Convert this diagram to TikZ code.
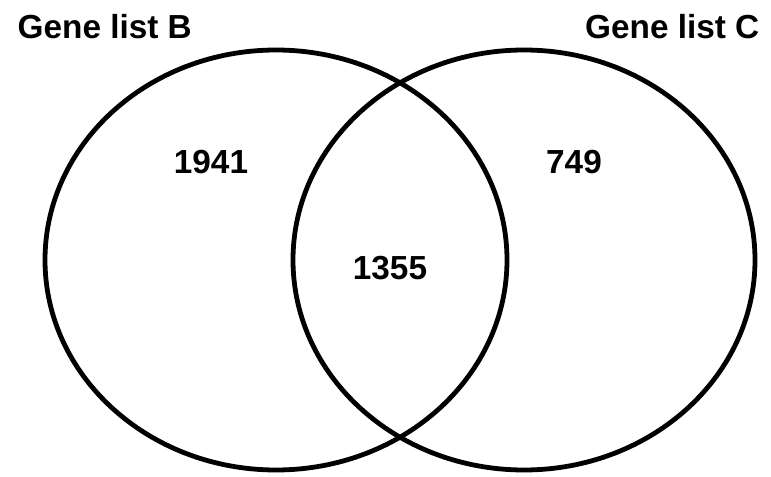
\documentclass[tikz,border=0pt]{standalone}
\usepackage{fontspec}
\setmainfont{Liberation Sans}
\begin{document}
\begin{tikzpicture}[x=0.75pt,y=-0.75pt,
		set/.style={line width=3.6pt},
		title/.style={font=\bfseries\fontsize{25}{29}\selectfont},
		count/.style={font=\bfseries\fontsize{25}{30}\selectfont}]
	\useasboundingbox (0,0) rectangle (771,477);

	% the two lists
	\draw [set] (276,260) ellipse (231 and 210);
	\draw [set] (524,260) ellipse (231 and 210);

	\node [title, anchor=base west] (titleB) at (13,39) {Gene list B};
	\node [title, anchor=base east] (titleC) at (764,39) {Gene list C};

	\node [count] (onlyB) at (211,162) {1941};
	\node [count] (both) at (390,268) {1355};
	\node [count] (onlyC) at (574,162) {749};

\end{tikzpicture}
\end{document}
